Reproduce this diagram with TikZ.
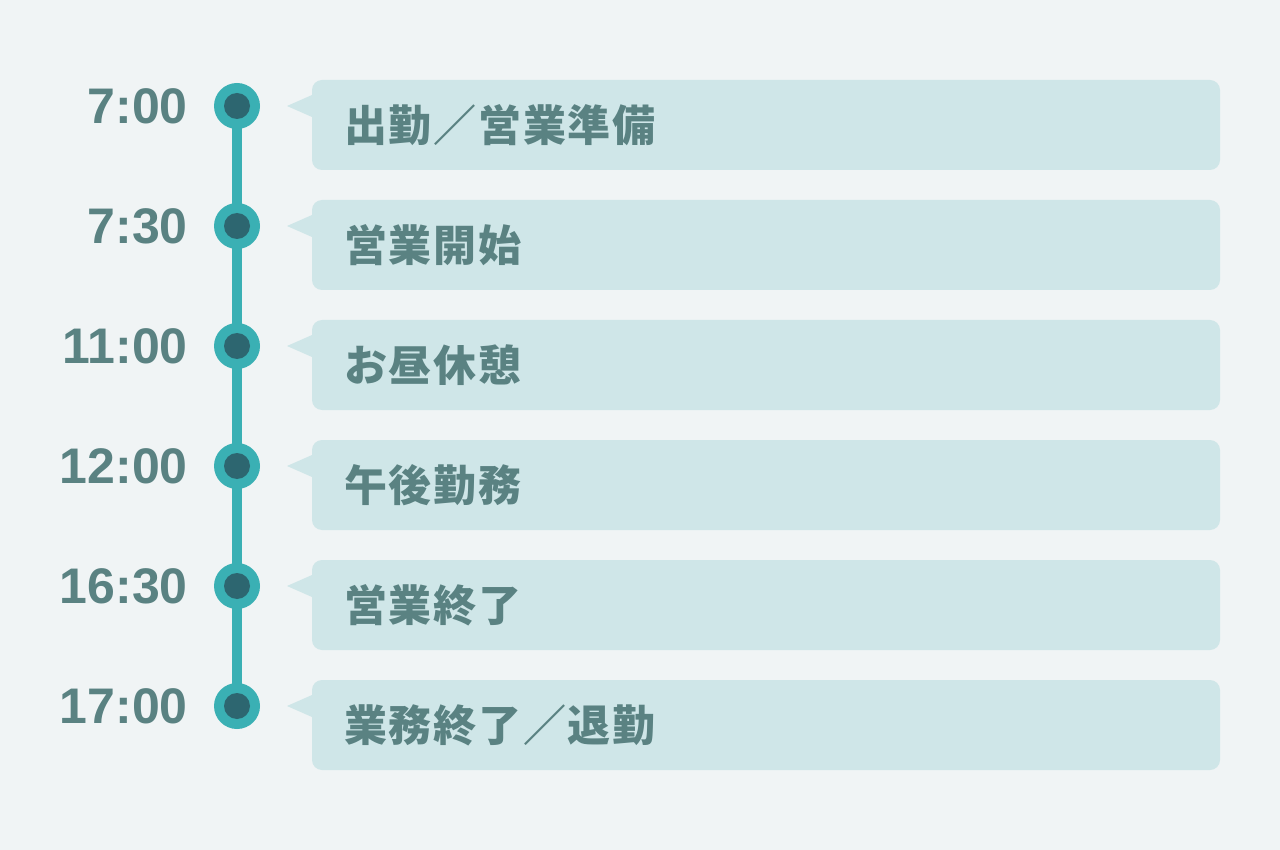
\documentclass[tikz,border=0pt]{standalone}
\usepackage{fontspec}
\setmainfont{Liberation Sans}
\newfontfamily\jpfont{Noto Sans CJK JP}[LetterSpace=4]
\newfontfamily\timefont{Liberation Sans}
\definecolor{bgc}{HTML}{F0F4F5}
\definecolor{boxc}{HTML}{CFE6E8}
\definecolor{txtc}{HTML}{5A8282}
\definecolor{ringc}{HTML}{3AB0B4}
\definecolor{dotc}{HTML}{2D6670}
\tikzset{
  timelbl/.style={anchor=east, inner sep=0pt, text=txtc, font=\timefont\fontsize{50}{50}\selectfont\bfseries},
  evbox/.style={fill=boxc, rounded corners=10pt},
  evtxt/.style={anchor=west, inner sep=0pt, text=txtc, font=\jpfont\fontsize{43}{43}\selectfont\bfseries},
  ring/.style={circle, fill=ringc, minimum size=46pt, inner sep=0pt},
  dot/.style={circle, fill=dotc, minimum size=26pt, inner sep=0pt},
  tline/.style={draw=ringc, line width=10pt},
}
\begin{document}
\begin{tikzpicture}[x=1pt,y=-1pt]
\fill[bgc] (0,0) rectangle (1280,850);
\useasboundingbox (0,0) rectangle (1280,850);
\foreach \i/\t/\e in {1/7:00/出勤／営業準備, 2/7:30/営業開始, 3/11:00/お昼休憩, 4/12:00/午後勤務, 5/16:30/営業終了, 6/17:00/業務終了／退勤}{
  \pgfmathsetmacro{\cy}{106+120*(\i-1)}
  \coordinate (c\i) at (237,\cy);
  \fill[evbox] (312,\cy-26) rectangle (1220,\cy+64);
  \fill[boxc] (312,\cy-11) -- (287,\cy) -- (312,\cy+11) -- cycle;
  \node[evtxt] (e\i) at (344,\cy+19) {\e};
  \node[timelbl] (t\i) at (188,\cy) {\t};
}
\draw[tline] (c1) -- (c2) -- (c3) -- (c4) -- (c5) -- (c6);
\foreach \i in {1,...,6}{
  \node[ring] (r\i) at (c\i) {};
  \node[dot] (d\i) at (c\i) {};
}
\end{tikzpicture}
\end{document}
